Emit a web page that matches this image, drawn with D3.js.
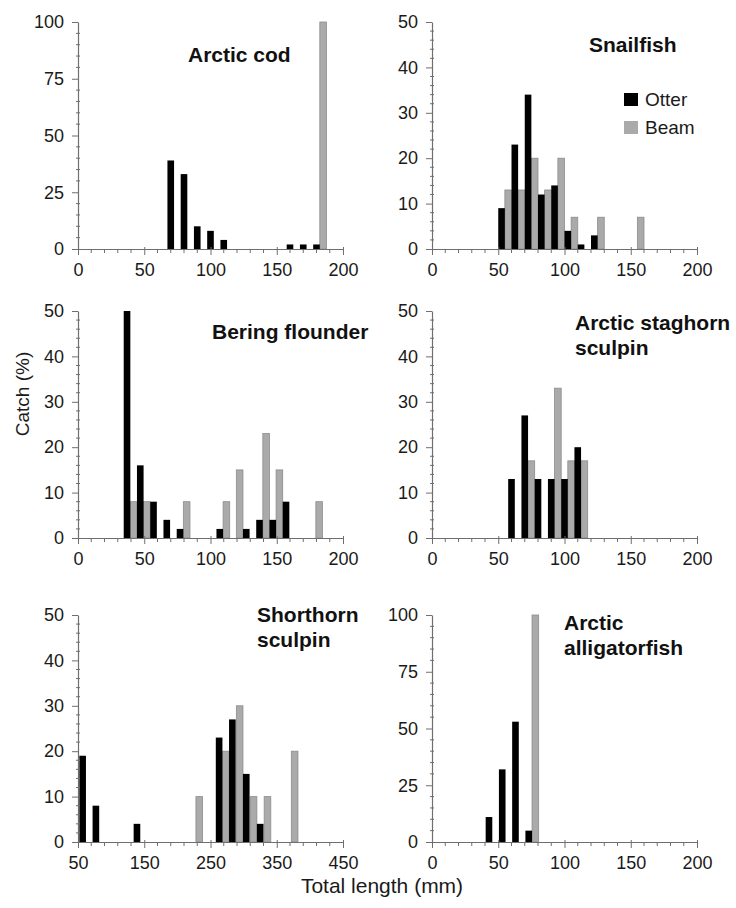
<!DOCTYPE html>
<html>
<head>
<meta charset="utf-8">
<script src="https://cdn.jsdelivr.net/npm/d3@7"></script>
<style>
  body { margin: 0; background: #fff; }
  svg { display: block; font-family: "Liberation Sans", Arial, sans-serif; }
  .tick-label { font-size: 18px; fill: #1a1a1a; }
  .species { font-size: 21px; font-weight: bold; fill: #111; }
</style>
</head>
<body>
<svg id="chart" width="736" height="908"></svg>
<script>
// length classes (mm, bar centre) and % of catch
const codOtterLen = [70, 80, 90, 100, 110, 160, 170, 180];
const codOtterPct = [39, 33, 10, 8, 4, 2, 2, 2];
const codBeamLen = [185];
const codBeamPct = [100];

const snailOtterLen = [52.5, 62.5, 72.5, 82.5, 92.5, 102.5, 112.5, 122.5];
const snailOtterPct = [9, 23, 34, 12, 14, 4, 1, 3];
const snailBeamLen = [57.5, 67.5, 77.5, 87.5, 97.5, 107.5, 127.5, 157.5];
const snailBeamPct = [13, 13, 20, 13, 20, 7, 7, 7];

const flounderOtterLen = [37, 47, 57, 67, 77, 107, 127, 137, 147, 157];
const flounderOtterPct = [50, 16, 8, 4, 2, 2, 2, 4, 4, 8];
const flounderBeamLen = [42, 52, 82, 112, 122, 142, 152, 182];
const flounderBeamPct = [8, 8, 8, 8, 15, 23, 15, 8];

const staghornOtterLen = [60, 70, 80, 90, 100, 110];
const staghornOtterPct = [13, 27, 13, 13, 13, 20];
const staghornBeamLen = [75, 95, 105, 115];
const staghornBeamPct = [17, 33, 17, 17];

const shorthornOtterLen = [57, 77, 139, 263, 283, 304, 325];
const shorthornOtterPct = [19, 8, 4, 23, 27, 15, 4];
const shorthornBeamLen = [233, 273, 294, 315, 336, 377];
const shorthornBeamPct = [10, 20, 30, 10, 10, 20];

const alligatorOtterLen = [43, 53, 63, 73];
const alligatorOtterPct = [11, 32, 53, 5];
const alligatorBeamLen = [78];
const alligatorBeamPct = [100];

const xTicks200 = [0, 50, 100, 150, 200];
const xTicks450 = [50, 150, 250, 350, 450];
const yTicks100 = [0, 25, 50, 75, 100];
const yTicks50 = [0, 10, 20, 30, 40, 50];

const gearNames = ["Otter", "Beam"];
const gearColors = { Otter: "#000", Beam: "#aaaaaa" };

const zip = (len, pct) => len.map((l, i) => ({ len: l, pct: pct[i] }));

const panels = [
  { title: ["Arctic cod"], otter: zip(codOtterLen, codOtterPct), beam: zip(codBeamLen, codBeamPct),
    xDom: [0, 200], xTicks: xTicks200, xMinor: 10, yMax: 100, yTicks: yTicks100, yMinor: 5, binW: 5,
    left: 78, top: 22, titleX: 188, titleY: 62 },
  { title: ["Snailfish"], otter: zip(snailOtterLen, snailOtterPct), beam: zip(snailBeamLen, snailBeamPct),
    xDom: [0, 200], xTicks: xTicks200, xMinor: 10, yMax: 50, yTicks: yTicks50, yMinor: 2, binW: 5,
    left: 432, top: 22, titleX: 589, titleY: 52, legend: true },
  { title: ["Bering flounder"], otter: zip(flounderOtterLen, flounderOtterPct), beam: zip(flounderBeamLen, flounderBeamPct),
    xDom: [0, 200], xTicks: xTicks200, xMinor: 10, yMax: 50, yTicks: yTicks50, yMinor: 2, binW: 5,
    left: 78, top: 311, titleX: 212, titleY: 339 },
  { title: ["Arctic staghorn", "sculpin"], otter: zip(staghornOtterLen, staghornOtterPct), beam: zip(staghornBeamLen, staghornBeamPct),
    xDom: [0, 200], xTicks: xTicks200, xMinor: 10, yMax: 50, yTicks: yTicks50, yMinor: 2, binW: 5,
    left: 432, top: 311, titleX: 575, titleY: 330 },
  { title: ["Shorthorn", "sculpin"], otter: zip(shorthornOtterLen, shorthornOtterPct), beam: zip(shorthornBeamLen, shorthornBeamPct),
    xDom: [50, 450], xTicks: xTicks450, xMinor: 20, yMax: 50, yTicks: yTicks50, yMinor: 2, binW: 10,
    left: 78, top: 615, titleX: 257, titleY: 622 },
  { title: ["Arctic", "alligatorfish"], otter: zip(alligatorOtterLen, alligatorOtterPct), beam: zip(alligatorBeamLen, alligatorBeamPct),
    xDom: [0, 200], xTicks: xTicks200, xMinor: 10, yMax: 100, yTicks: yTicks100, yMinor: 5, binW: 5,
    left: 432, top: 615, titleX: 564, titleY: 630 }
];

const plotW = 265, plotH = 227;
const axisColor = "#6f6f6f";

const svg = d3.select("#chart");
svg.append("rect").attr("width", 736).attr("height", 908).attr("fill", "#fff");

panels.forEach(p => {
  const g = svg.append("g").attr("transform", `translate(${p.left},${p.top})`);
  const x = d3.scaleLinear().domain(p.xDom).range([0, plotW]);
  const y = d3.scaleLinear().domain([0, p.yMax]).range([plotH, 0]);

  // bars
  const drawBars = (rows, gear) => {
    g.selectAll(null)
      .data(rows)
      .enter()
      .append("rect")
      .attr("x", d => x(d.len - p.binW / 2))
      .attr("width", d => x(d.len + p.binW / 2) - x(d.len - p.binW / 2))
      .attr("y", d => y(d.pct))
      .attr("height", d => y(0) - y(d.pct))
      .attr("fill", gearColors[gear])
      .attr("stroke", gear === "Beam" ? "#8c8c8c" : "none")
      .attr("stroke-width", 0.8);
  };
  drawBars(p.beam, "Beam");
  drawBars(p.otter, "Otter");

  // x axis with minor ticks
  const xAxis = g.append("g").attr("transform", `translate(0,${plotH})`);
  xAxis.call(d3.axisBottom(x).tickValues(p.xTicks).tickSize(6).tickSizeOuter(0).tickFormat(d3.format("d")));
  xAxis.selectAll(".tick line").attr("y1", -2);
  const xMinorVals = d3.range(p.xDom[0], p.xDom[1] + 0.1, p.xMinor).filter(v => !p.xTicks.includes(v));
  xAxis.selectAll(".minor").data(xMinorVals).enter().append("line")
    .attr("x1", d => x(d)).attr("x2", d => x(d)).attr("y1", 0).attr("y2", 4)
    .attr("stroke", axisColor);

  // y axis with minor ticks
  const yAxis = g.append("g");
  yAxis.call(d3.axisLeft(y).tickValues(p.yTicks).tickSize(6).tickSizeOuter(0).tickPadding(8));
  const yMinorVals = d3.range(0, p.yMax + 0.1, p.yMinor).filter(v => !p.yTicks.includes(v));
  yAxis.selectAll(".minor").data(yMinorVals).enter().append("line")
    .attr("x1", -2).attr("x2", 2).attr("y1", d => y(d)).attr("y2", d => y(d))
    .attr("stroke", axisColor);

  [xAxis, yAxis].forEach(a => {
    a.select(".domain").attr("stroke", axisColor).attr("stroke-width", 1.2);
    a.selectAll(".tick line").attr("stroke", axisColor);
    a.selectAll(".tick text").attr("class", "tick-label").attr("fill", "#1a1a1a");
  });
  xAxis.selectAll(".tick text").attr("dy", "1.0em");

  // species name
  const t = svg.append("text").attr("class", "species")
    .attr("x", p.titleX).attr("y", p.titleY);
  p.title.forEach((line, i) => {
    t.append("tspan").attr("x", p.titleX).attr("dy", i === 0 ? 0 : 25).text(line);
  });

  if (p.legend) {
    const lg = svg.append("g").attr("transform", "translate(624,93)");
    gearNames.forEach((name, i) => {
      lg.append("rect").attr("x", 0).attr("y", i * 28).attr("width", 14).attr("height", 13)
        .attr("fill", gearColors[name]);
      lg.append("text").attr("class", "tick-label").attr("x", 21).attr("y", i * 28 + 13)
        .style("font-size", "19px").text(name);
    });
  }
});

// shared axis titles
svg.append("text")
  .attr("transform", "translate(29,394) rotate(-90)")
  .attr("text-anchor", "middle")
  .style("font-size", "19px").attr("fill", "#1a1a1a")
  .text("Catch (%)");

svg.append("text")
  .attr("x", 382).attr("y", 893)
  .attr("text-anchor", "middle")
  .style("font-size", "21px").attr("fill", "#1a1a1a")
  .text("Total length (mm)");
</script>
</body>
</html>
